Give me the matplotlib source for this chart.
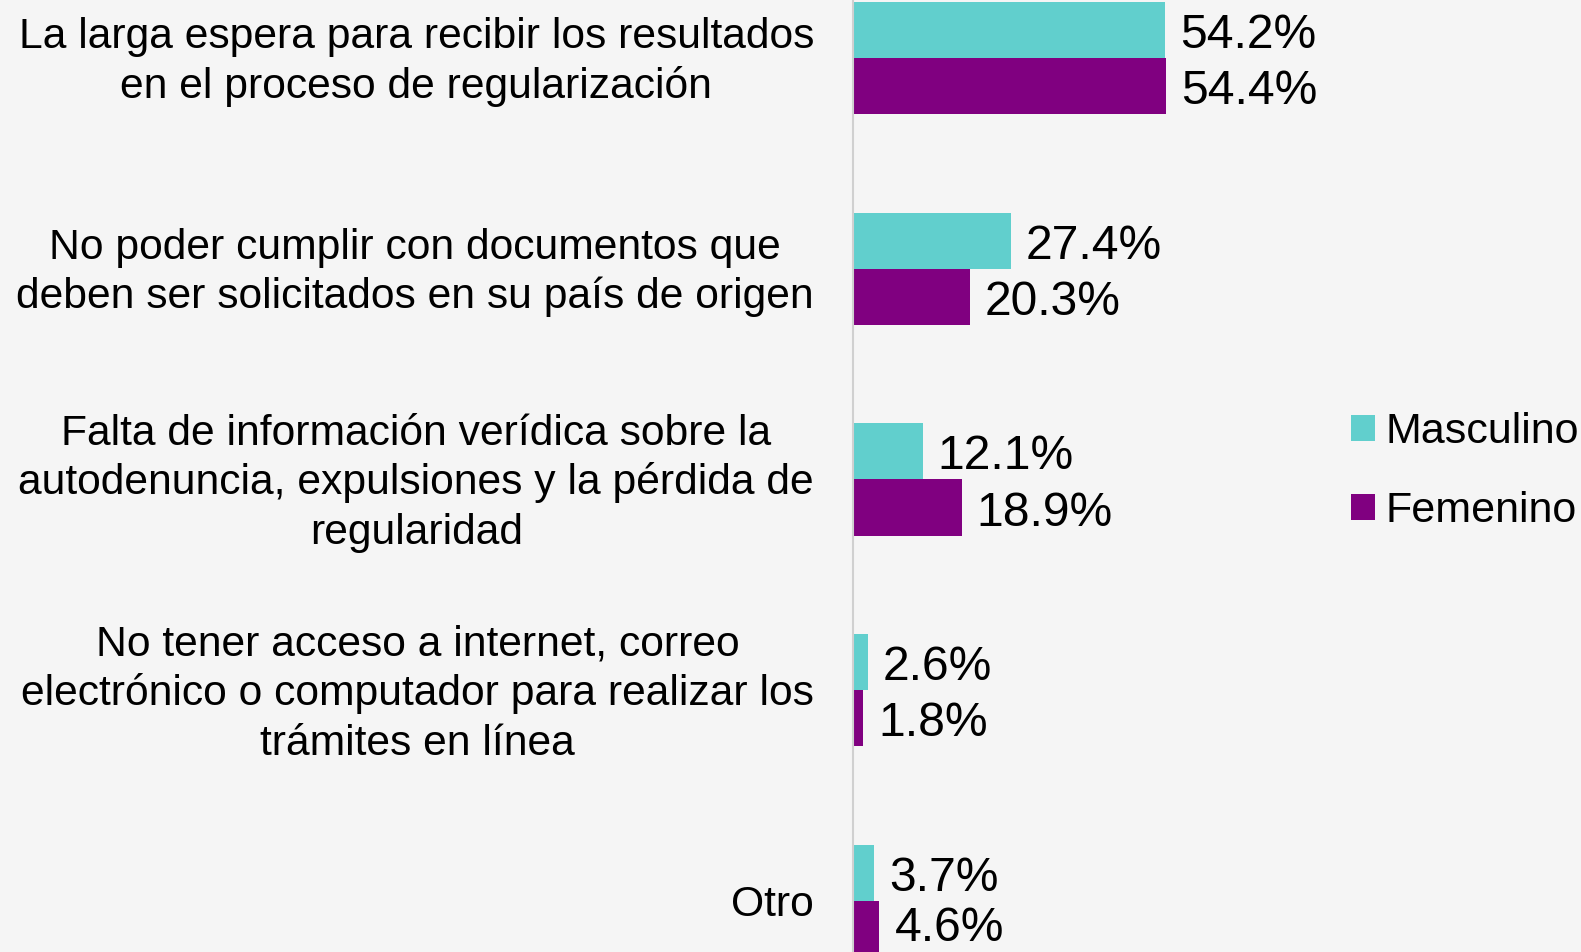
import matplotlib
matplotlib.use('Agg')
from matplotlib import pyplot as plt
from matplotlib.patches import Patch

plt.rcParams['font.family'] = ['Liberation Sans', 'DejaVu Sans']

# data
categories = [
    ['La larga espera para recibir los resultados', 'en el proceso de regularización'],
    ['No poder cumplir con documentos que', 'deben ser solicitados en su país de origen'],
    ['Falta de información verídica sobre la', 'autodenuncia, expulsiones y la pérdida de', 'regularidad'],
    ['No tener acceso a internet, correo', 'electrónico o computador para realizar los', 'trámites en línea'],
    ['Otro'],
]
masculino = [54.2, 27.4, 12.1, 2.6, 3.7]
femenino = [54.4, 20.3, 18.9, 1.8, 4.6]
series_names = ['Masculino', 'Femenino']

teal = '#61cfcd'
purple = '#800080'
bg = '#f5f5f5'

W, H = 1581, 952
fig = plt.figure(figsize=(W / 100, H / 100), dpi=100, facecolor=bg)
ax = fig.add_axes([853 / W, 0, (1330 - 853) / W, 1])
ax.set_facecolor(bg)

h = 0.266
ys = list(range(len(categories)))
ax.barh([y - h / 2 for y in ys], masculino, height=h, color=teal)
ax.barh([y + h / 2 for y in ys], femenino, height=h, color=purple)

ax.set_xlim(0, 477 / 5.75)
ax.set_ylim(4.242, -0.275)

for side in ['top', 'right', 'bottom']:
    ax.spines[side].set_visible(False)
ax.spines['left'].set_color('#d0d0d0')
ax.spines['left'].set_linewidth(1.5)
ax.set_xticks([])
ax.set_yticks([])

renderer = fig.canvas.get_renderer()

# value labels (kept inside the figure, as in the original)
for y, vm, vf in zip(ys, masculino, femenino):
    for v, yy in [(vm, y - h / 2), (vf, y + h / 2)]:
        t = ax.annotate(f'{v:.1f}%', xy=(v, yy), xytext=(15, -18),
                        textcoords='offset pixels', ha='left', va='baseline',
                        fontsize=34.6, color='black')
        bottom = t.get_window_extent(renderer).y0
        if bottom < 1:
            t.xyann = (15, -18 + (1 - bottom))

# category labels, one text per line so spacing stays even
line_px = 49.5
for y, lines in zip(ys, categories):
    n = len(lines)
    texts = []
    for k, line in enumerate(lines):
        dy = -(k - (n - 1) / 2) * line_px - 15
        t = ax.annotate(line, xy=(0, y), xycoords=ax.get_yaxis_transform(),
                        xytext=(0, dy), textcoords='offset pixels',
                        ha='center', va='baseline', fontsize=30.7, color='black')
        texts.append((t, dy))
    wmax = max(t.get_window_extent(renderer).width for t, _ in texts)
    for t, dy in texts:
        t.xyann = (-39 - wmax / 2, dy)

handles = [Patch(facecolor=teal, edgecolor='none', label=series_names[0]),
           Patch(facecolor=purple, edgecolor='none', label=series_names[1])]
fig.legend(handles=handles, loc='center left',
           bbox_to_anchor=(1351 / W, 1 - 471.6 / H), frameon=False,
           fontsize=31, handlelength=0.55, handleheight=0.55,
           handletextpad=0.25, labelspacing=0.9, borderpad=0,
           borderaxespad=0)

fig.savefig('out.png', dpi=100, facecolor=bg)
